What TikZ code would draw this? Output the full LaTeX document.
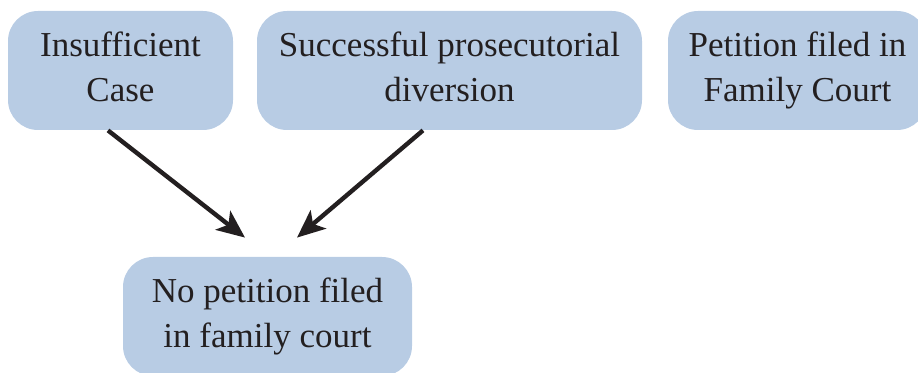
\documentclass[tikz,border=0pt]{standalone}
\usepackage{fontspec}
\setmainfont{Liberation Serif}
\usetikzlibrary{arrows.meta}
\definecolor{boxblue}{HTML}{B8CCE4}
\definecolor{inkgray}{HTML}{231F20}

\begin{document}
\begin{tikzpicture}[x=1pt,y=-1pt]
   \tikzset{Box/.style={fill=boxblue,rounded corners=15pt,align=center,text=inkgray,
      font=\fontsize{17.5}{22.5}\selectfont,inner sep=0pt,minimum height=59.5pt,
      execute at end node=\vphantom{y}}}
   \tikzset{Arrow/.style={-{Stealth[length=14pt,width=12pt,inset=3.5pt]},line width=2.2pt,draw=inkgray}}
   \useasboundingbox (0,0) rectangle (459,186.5);
   \node[Box,minimum width=112.5pt] (insuf) at (60.25,35.25) {Insufficient\\Case};
   \node[Box,minimum width=192.5pt] (divers) at (224.75,35.25) {Successful prosecutorial\\diversion};
   \node[Box,minimum width=129.5pt] (petit) at (398.75,35.25) {Petition filed in\\Family Court};
   \node[Box,minimum width=144.5pt] (nopet) at (133.75,158.25) {No petition filed\\in family court};
   \draw[Arrow] ([xshift=-6.25pt]insuf.south) -- ([xshift=-11.25pt,yshift=9.5pt]nopet.north);
   \draw[Arrow] ([xshift=-13.25pt]divers.south) -- ([xshift=14.75pt,yshift=9.5pt]nopet.north);
\end{tikzpicture}
\end{document}
